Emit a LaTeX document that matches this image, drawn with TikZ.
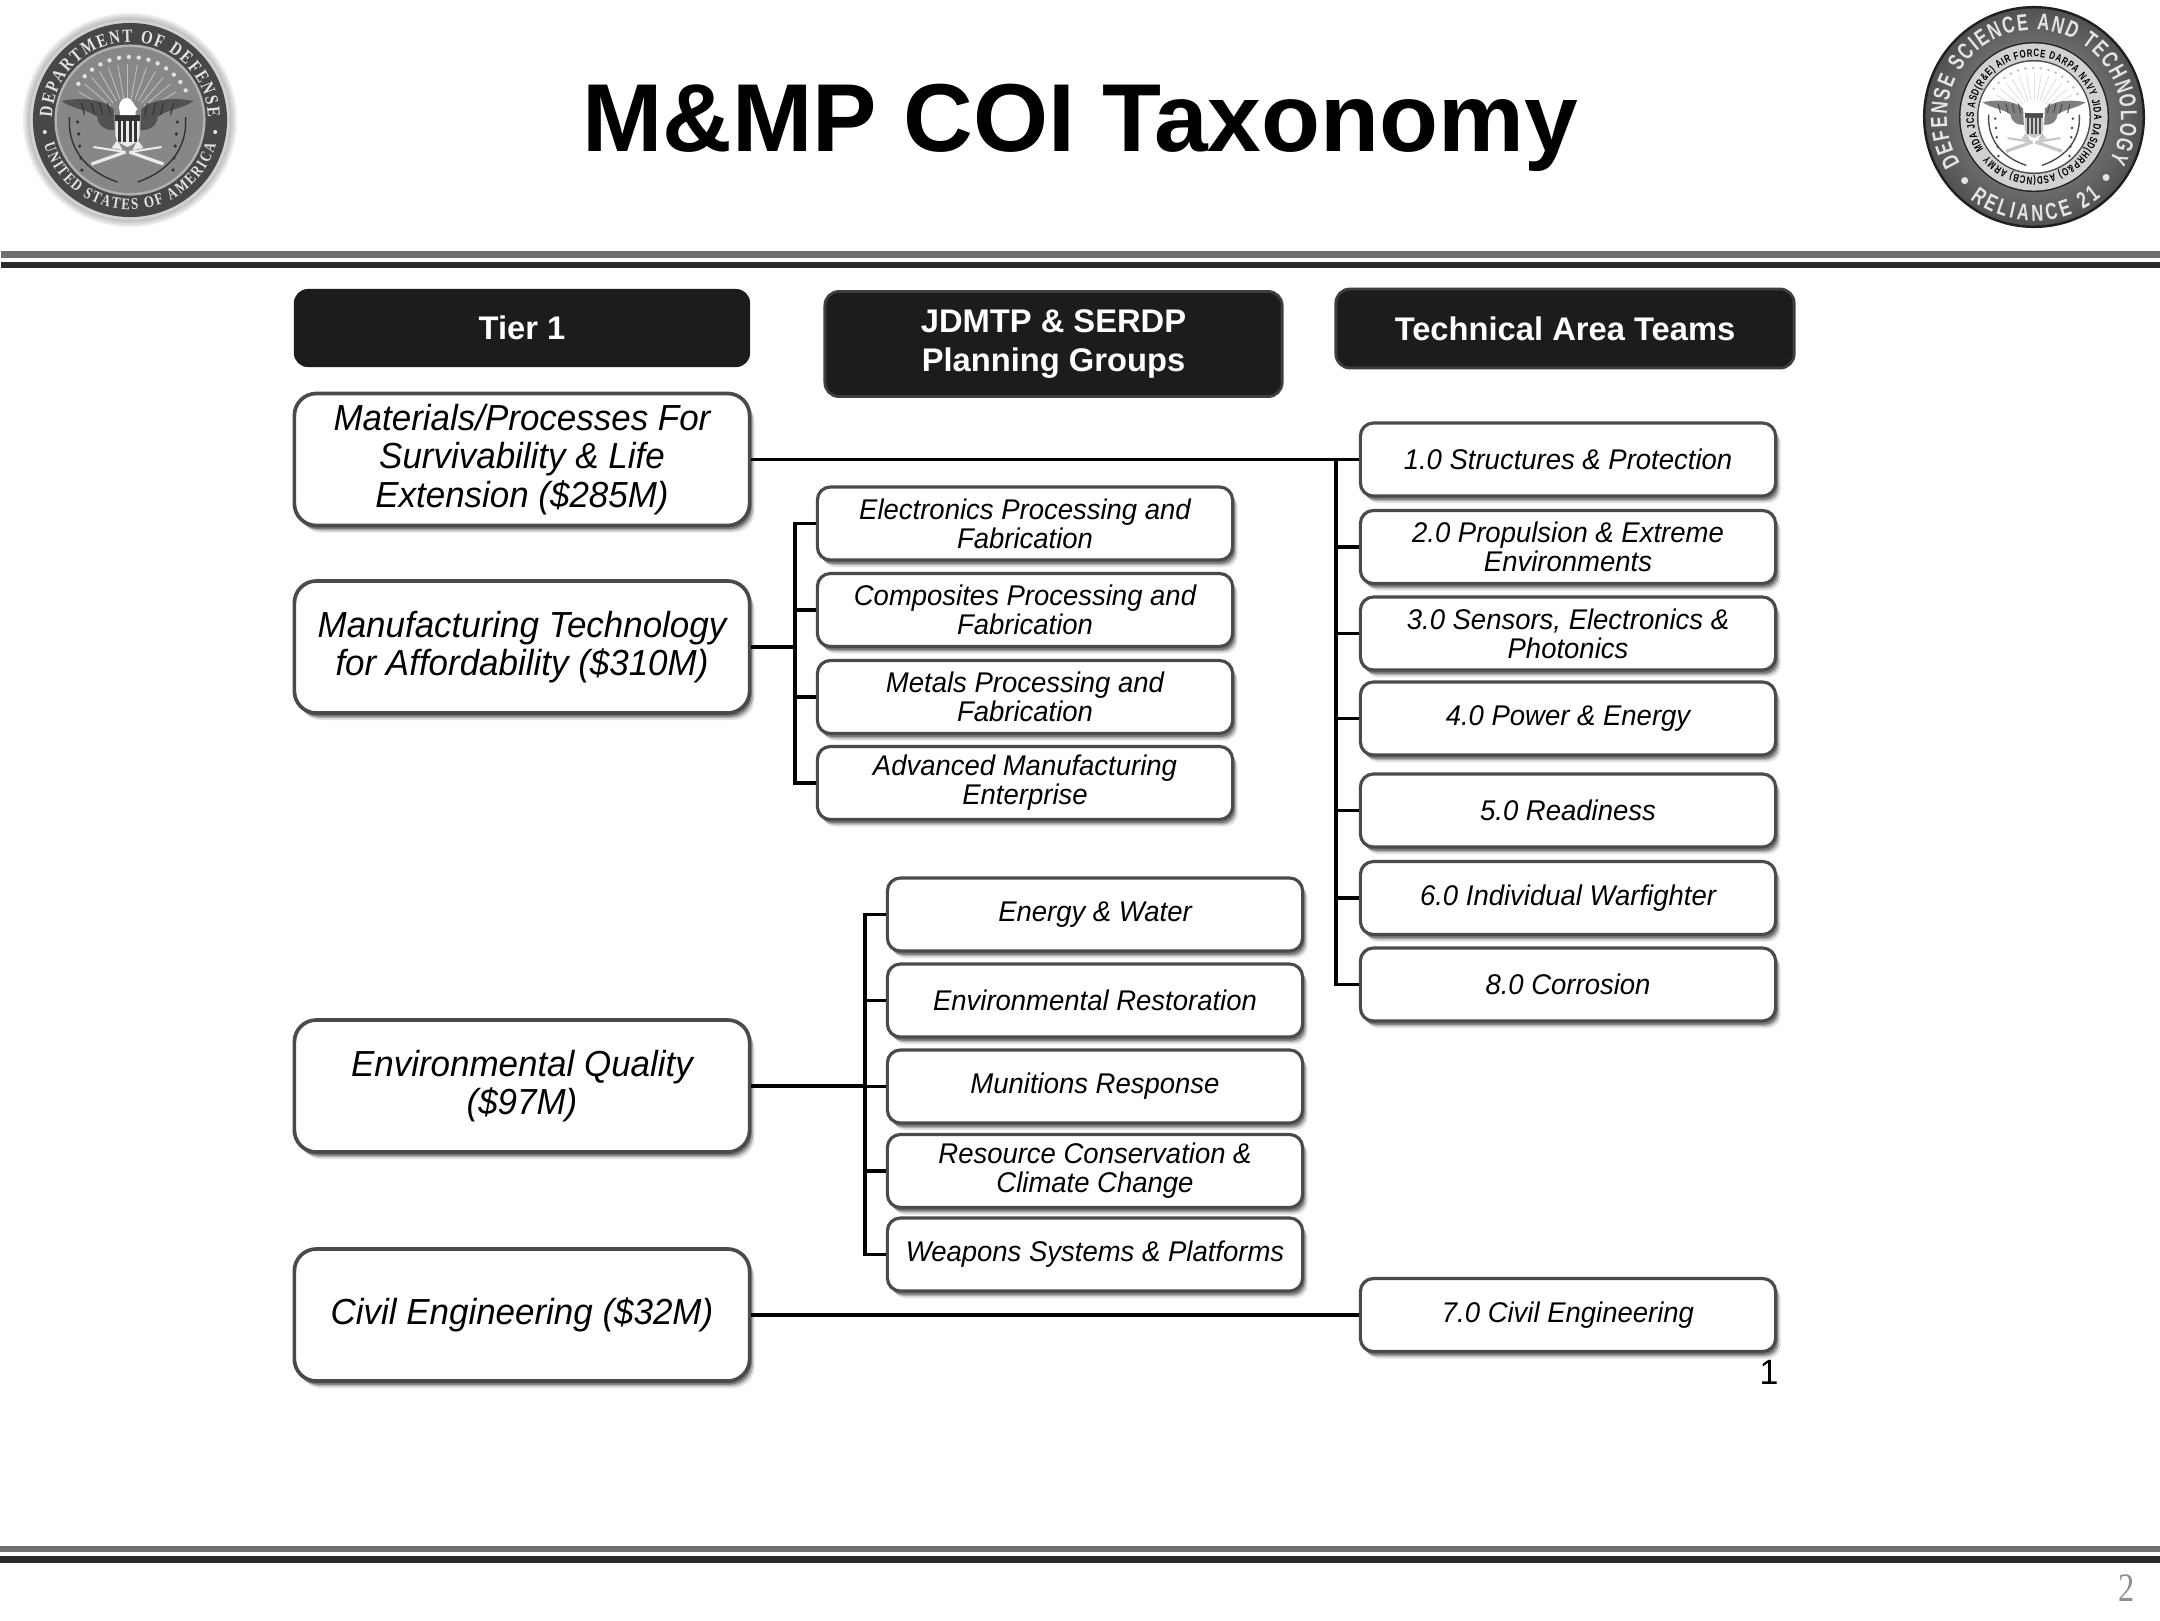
\documentclass[tikz,border=0pt]{standalone}
\usepackage{fontspec}
\setmainfont{Liberation Sans}
\newfontfamily\serifseal{Liberation Serif}
\newfontfamily\serifnarrow[FakeStretch=0.8]{Liberation Serif}
\newfontfamily\sansnarrow[FakeStretch=0.72]{Liberation Sans}
\newfontfamily\bodyfont[FakeStretch=0.965]{Liberation Sans}
\usetikzlibrary{shadows,decorations.text}
\definecolor{edgegray}{HTML}{4A4A4A}
\definecolor{headdark}{HTML}{1C1C1C}
\definecolor{headedge}{HTML}{3E3E3E}
\definecolor{ruleA}{HTML}{6E6E6E}
\definecolor{ruleB}{HTML}{2A2A2A}
\definecolor{pagegray}{HTML}{8E8E8E}
\definecolor{sealtxt}{HTML}{E4E4E4}
\newcommand{\arctext}[5]{\path[decorate,decoration={text along path,text align={fit to path},text={|#4|#5}}] (#1:#3cm) arc[start angle=#1,end angle=#2,radius=#3cm];}
\newcommand{\fmtA}{\serifnarrow\bfseries\fontsize{5.3}{6}\selectfont\color{sealtxt}}
\newcommand{\fmtAb}{\serifnarrow\bfseries\fontsize{4.6}{6}\selectfont\color{sealtxt}}
\newcommand{\fmtB}{\sansnarrow\bfseries\fontsize{6.6}{7}\selectfont\color{sealtxt}}
\newcommand{\fmtC}{\sansnarrow\bfseries\fontsize{3.1}{4}\selectfont\color{black}}
% eagle: #1 wing colour, #2 light, #3 dark
\newcommand{\eagleart}[3]{%
 \begin{scope}[x=1cm,y=1cm]
  \foreach \a in {20,30,...,160} \draw[#2,line width=.25pt,opacity=.55] (\a:.22cm) -- (\a:.56cm);
  \foreach \s in {1,-1}{
    \begin{scope}[xscale=\s]
      \fill[#1] (.66,.19) .. controls (.45,.23) and (.25,.21) .. (.14,.11)
        -- (.13,-.1) .. controls (.22,-.11) and (.3,-.05) .. (.3,.03)
        .. controls (.38,.1) and (.55,.11) .. (.66,.19) -- cycle;
      \foreach \k in {.2,.28,.36,.46} \draw[#3,line width=.3pt] (\k,.17) -- (\k-.03,.05);
      \fill[#2] (.05,-.3) -- (.16,-.28) -- (.1,-.2) -- cycle;
      \draw[#3,line width=.4pt] (.1,-.62) .. controls (.45,-.5) and (.6,-.25) .. (.58,.03);
      \foreach \k in {-.5,-.38,-.26,-.14,-.02} \fill[#3] (.5+.09*\k,\k) circle (.018cm);
      \draw[#2,line width=.9pt] (.02,-.32) -- (.36,-.44);
      \draw[#2,line width=.6pt] (.02,-.32) -- (.34,-.27);
    \end{scope}}
  \fill[#3] (-.12,.05) rectangle (.12,-.01);
  \fill[#2] (-.12,-.01) -- (.12,-.01) -- (.12,-.16) .. controls (.12,-.22) and (.04,-.25) .. (0,-.27)
     .. controls (-.04,-.25) and (-.12,-.22) .. (-.12,-.16) -- cycle;
  \foreach \k in {-.08,-.03,.03,.08} \draw[#3,line width=.6pt] (\k,-.01) -- (\k,-.22);
  \fill[white] (-.07,.05) .. controls (-.1,.15) and (-.08,.22) .. (0,.22)
    .. controls (.04,.22) and (.05,.17) .. (.1,.11) .. controls (.08,.1) and (.08,.08) .. (.08,.05) -- cycle;
 \end{scope}
}
\tikzset{
  shadowed/.style={
    preaction={drop shadow={shadow xshift=.05cm,shadow yshift=-.07cm,fill=black,opacity=.12}},
    preaction={drop shadow={shadow xshift=.035cm,shadow yshift=-.05cm,fill=black,opacity=.22}},
    preaction={drop shadow={shadow xshift=.02cm,shadow yshift=-.035cm,fill=black,opacity=.3}}},
  tierbox/.style={shadowed,draw=edgegray,line width=1.05pt,fill=white,rounded corners=.22cm,
    minimum width=4.55cm,minimum height=1.32cm,inner sep=0pt,align=center,
    font=\bodyfont\fontsize{10.3}{10.9}\selectfont\itshape},
  subbox/.style={shadowed,draw=edgegray,line width=.9pt,fill=white,rounded corners=.13cm,
    minimum width=4.15cm,minimum height=.73cm,inner sep=0pt,align=center,
    font=\bodyfont\fontsize{8.1}{8.2}\selectfont\itshape},
  headbox/.style={draw=headedge,line width=.8pt,fill=headdark,rounded corners=.14cm,inner sep=0pt,
    text=white,align=center,font=\fontsize{9.3}{11.2}\selectfont\bfseries},
  conn/.style={draw=black,line width=.95pt},
  rulea/.style={fill=ruleA},
  ruleb/.style={fill=ruleB},
}
\begin{document}
\begin{tikzpicture}[x=.01cm,y=-.01cm]
\useasboundingbox (0,0) rectangle (2160,1620);
\fill[white] (0,0) rectangle (2160,1620);
% rules
\fill[rulea] (1,251) rectangle (2160,257.5);
\fill[ruleb] (1,261.5) rectangle (2160,268);
\fill[rulea] (0,1546) rectangle (2160,1552);
\fill[ruleb] (0,1556) rectangle (2160,1563);
% title
\node[font=\fontsize{27.45}{30}\selectfont\bfseries] (title) at (1080,128) {M\&MP COI Taxonomy};
% left seal
\begin{scope}[shift={(130,120)},y=.01cm]
  \foreach \r in {1.01,1.03,...,1.09} \fill[black,opacity=.07] (-.02,-.01) circle (\r cm);
  \fill[white!82!black] (0,0) circle (1.0cm);
  \fill[black!72] (0,0) circle (.97cm);
  \fill[black!30] (0,0) circle (.755cm);
  \fill[black!47] (0,0) circle (.73cm);
  \begin{scope}[xshift=-.025cm]\eagleart{black!68}{black!8}{black!80}\end{scope}
  \foreach \a in {28,37,...,152} \fill[black!12] (\a:.63cm) circle (.022cm);
  \arctext{178}{2}{.78}{\fmtA}{DEPARTMENT OF DEFENSE}
  \arctext{196}{344}{.895}{\fmtAb}{UNITED STATES OF AMERICA}
  \fill[sealtxt] (188:.86cm) circle (.02cm);
  \fill[sealtxt] (352:.86cm) circle (.02cm);
\end{scope}
% right seal
\begin{scope}[shift={(2034,117)},y=.01cm]
  \fill[black!88] (0,0) circle (1.11cm);
  \shade[inner color=black!35,outer color=black!68] (0,0) circle (1.085cm);
  \arctext{212}{-30}{.87}{\fmtB}{DEFENSE SCIENCE AND TECHNOLOGY}
  \arctext{232}{310}{1.04}{\fmtB}{RELIANCE 21}
  \fill[sealtxt] (222.5:.94cm) circle (.035cm);
  \fill[sealtxt] (320:.94cm) circle (.035cm);
  \fill[black!85] (0,0) circle (.75cm);
  \fill[black!18] (0,0) circle (.735cm);
  \fill[black!70] (0,0) circle (.57cm);
  \fill[white] (0,0) circle (.555cm);
  \begin{scope}[scale=.78]
    \eagleart{black!50}{black!22}{black!70}
    \foreach \a in {28,37,...,152} \fill[black!25] (\a:.63cm) circle (.018cm);
  \end{scope}
  \arctext{213}{-140}{.6}{\fmtC}{MDA JCS ASD(R{\&}E) AIR FORCE DARPA NAVY JIDA DASD(HRP{\&}O) ASD(NCB) ARMY}
\end{scope}
% headers
\node[headbox,minimum width=4.56cm,minimum height=.78cm,draw=none] (h1) at (522,328) {Tier 1};
\node[headbox,minimum width=4.57cm,minimum height=1.05cm] (h2) at (1053.5,344) {JDMTP \& SERDP\\Planning Groups};
\node[headbox,minimum width=4.58cm,minimum height=.79cm] (h3) at (1565,328.5) {Technical Area Teams};
% tier boxes
\node[tierbox] (b1) at (522,459.5) {Materials/Processes For\\Survivability \& Life\\Extension (\$285M)};
\node[tierbox] (b2) at (522,647) {Manufacturing Technology\\for Affordability (\$310M)};
\node[tierbox] (b3) at (522,1086) {Environmental Quality\\(\$97M)};
\node[tierbox] (b4) at (522,1315) {Civil Engineering (\$32M)};
% JDMTP
\node[subbox] (e1) at (1025,523.5) {Electronics Processing and\\Fabrication};
\node[subbox] (e2) at (1025,610) {Composites Processing and\\Fabrication};
\node[subbox] (e3) at (1025,697) {Metals Processing and\\Fabrication};
\node[subbox] (e4) at (1025,783) {Advanced Manufacturing\\Enterprise};
% SERDP
\node[subbox] (s1) at (1095,914.5) {Energy \& Water};
\node[subbox] (s2) at (1095,1000.5) {Environmental Restoration};
\node[subbox] (s3) at (1095,1086.5) {Munitions Response};
\node[subbox] (s4) at (1095,1171) {Resource Conservation \&\\Climate Change};
\node[subbox] (s5) at (1095,1254.5) {Weapons Systems \& Platforms};
% TATs
\node[subbox] (t1) at (1568,459.5) {1.0 Structures \& Protection};
\node[subbox] (t2) at (1568,547) {2.0 Propulsion \& Extreme\\Environments};
\node[subbox] (t3) at (1568,633.5) {3.0 Sensors, Electronics \&\\Photonics};
\node[subbox] (t4) at (1568,718.5) {4.0 Power \& Energy};
\node[subbox] (t5) at (1568,810.5) {5.0 Readiness};
\node[subbox] (t6) at (1568,898) {6.0 Individual Warfighter};
\node[subbox] (t7) at (1568,984.5) {8.0 Corrosion};
\node[subbox] (t8) at (1568,1315) {7.0 Civil Engineering};
% trunks
\coordinate (tr1) at (795,647);
\coordinate (tr2) at (865,1086);
\coordinate (tr3) at (1336,700);
\draw[conn] (b1.east) -- (t1.west);
\draw[conn] (b4.east) -- (t8.west);
\draw[conn] (b2.east) -- (b2.east -| tr1);
\draw[conn] (b3.east) -- (b3.east -| tr2);
\draw[conn,line cap=rect] (e1.west -| tr1) -- (e4.west -| tr1);
\draw[conn,line cap=rect] (s1.west -| tr2) -- (s5.west -| tr2);
\draw[conn,line cap=rect] (t1.west -| tr3) -- (t7.west -| tr3);
\foreach \n in {e1,e2,e3,e4} \draw[conn] (\n.west) -- (\n.west -| tr1);
\foreach \n in {s1,s2,s3,s4,s5} \draw[conn] (\n.west) -- (\n.west -| tr2);
\foreach \n in {t2,t3,t4,t5,t6,t7} \draw[conn] (\n.west) -- (\n.west -| tr3);
% stray labels
\node[font=\bodyfont\fontsize{10}{11}\selectfont] (one) at (1769,1372) {1};
\node[font=\serifnarrow\fontsize{11.5}{12}\selectfont,text=pagegray] (page) at (2127,1588) {2};
\end{tikzpicture}
\end{document}
